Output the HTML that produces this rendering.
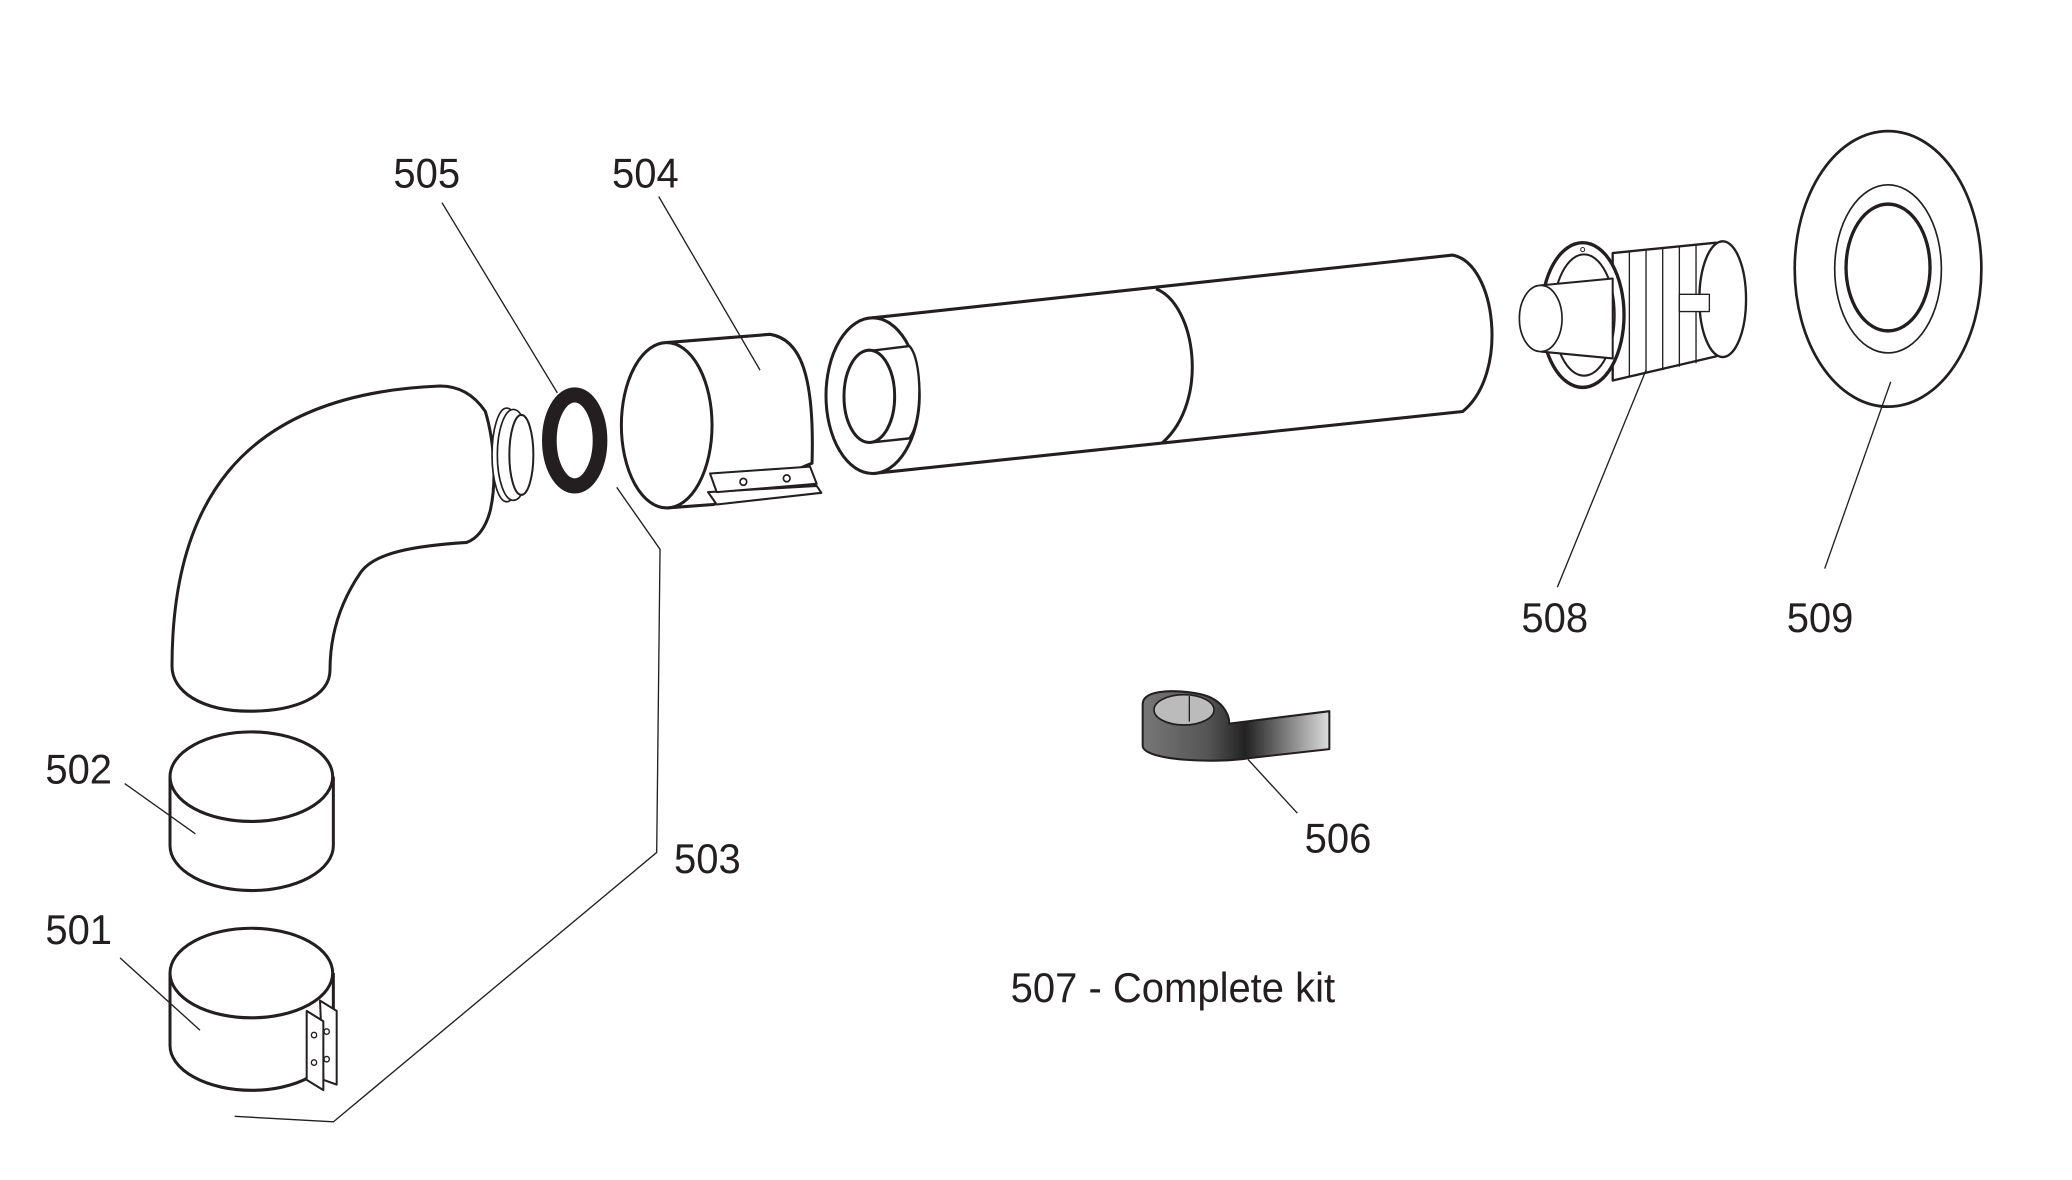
<!DOCTYPE html>
<html><head><meta charset="utf-8"><style>
html,body{margin:0;padding:0;background:#fff;}
svg{display:block;}
text{font-family:"Liberation Sans",Arial,sans-serif;fill:#231f20;font-size:60px;}
</style></head><body>
<svg width="2072" height="1180" viewBox="0 0 2072 1180" xmlns="http://www.w3.org/2000/svg">
<defs>
<linearGradient id="tg" x1="0" x2="1" y1="0" y2="0">
<stop offset="0" stop-color="#777"/><stop offset="0.35" stop-color="#555"/><stop offset="0.55" stop-color="#222"/><stop offset="1" stop-color="#ddd"/>
</linearGradient>
</defs>
<g transform="translate(0,98) scale(0.6667,0.689)" fill="#fff" stroke="#231f20" stroke-width="4.5" stroke-linejoin="round">
<path d="M258,825 C258,600 350,430 660,418 C690,418 712,432 728,455 C742,500 745,560 735,600 C728,625 715,640 700,645 C620,650 560,660 540,690 C505,740 495,790 495,830 C495,870 440,890 375,890 C300,890 258,860 258,825 Z"/>
<ellipse cx="760" cy="518" rx="22" ry="68" stroke-width="2.5"/>
<ellipse cx="770" cy="518" rx="24" ry="66" stroke-width="2.5"/>
<ellipse cx="782" cy="518" rx="18" ry="58" stroke-width="3"/>
<ellipse cx="862" cy="497" rx="38" ry="66" fill="none" stroke-width="22"/>
<path d="M1000,355 L1155,343 C1200,350 1222,400 1218,530 L1070,590 L1000,595" />
<ellipse cx="1000" cy="475" rx="68" ry="120"/>
<path d="M1062,572 L1225,563 L1232,573 L1075,590 Z" stroke-width="3"/>
<path d="M1065,545 L1215,535 L1225,560 L1075,572 Z" stroke-width="3"/>
<circle cx="1115" cy="557" r="5" stroke-width="2.5"/>
<circle cx="1180" cy="552" r="5" stroke-width="2.5"/>
<path d="M255,985 L255,1085 A122,65 0 0 0 500,1085 L500,985"/>
<ellipse cx="377" cy="985" rx="122" ry="65"/>
<path d="M255,1270 L255,1375 A122,65 0 0 0 500,1375 L500,1270"/>
<ellipse cx="377" cy="1270" rx="122" ry="65"/>
<path d="M480,1310 L505,1325 L505,1432 L485,1425 Z" stroke-width="3"/>
<path d="M460,1325 L485,1340 L485,1440 L460,1425 Z" stroke-width="3"/>
<circle cx="471" cy="1360" r="4" stroke-width="2"/><circle cx="471" cy="1400" r="4" stroke-width="2"/>
<circle cx="490" cy="1355" r="4" stroke-width="2"/><circle cx="490" cy="1395" r="4" stroke-width="2"/>
<g fill="none" stroke-width="2">
<path d="M663,152 L836,428"/>
<path d="M988,143 L1140,395"/>
<path d="M925,565 L990,655 L985,1095 L500,1486 L352,1478"/>
<path d="M187,995 L293,1068"/>
<path d="M180,1248 L300,1353"/>
</g>
<g stroke="none">
<text x="590" y="130">505</text>
<text x="918" y="130">504</text>
<text x="68" y="995">502</text>
<text x="1011" y="1125">503</text>
<text x="68" y="1228">501</text>
</g>
</g>
<g transform="translate(1036,98) scale(0.6667,0.689)" fill="#fff" stroke="#231f20" stroke-width="4.5" stroke-linejoin="round">
<path d="M-245,319 L625,228 C690,240 710,400 640,455 L-245,545 Z"/>
<path d="M180,277 C240,300 260,440 190,500" fill="none"/>
<ellipse cx="-245" cy="432" rx="70" ry="113"/>
<path d="M-248,367 L-190,360 C-170,380 -170,470 -190,494 L-248,500" stroke-width="3.5"/>
<ellipse cx="-250" cy="433" rx="38" ry="67"/>
<path d="M865,225 L1020,210 L1020,375 L865,410 Z" stroke-width="3.5"/>
<ellipse cx="1030" cy="292" rx="35" ry="84" stroke-width="3.5"/>
<g stroke-width="2" fill="none">
<path d="M890,222 L890,405"/><path d="M915,220 L915,400"/><path d="M940,218 L940,395"/><path d="M965,215 L965,390"/><path d="M990,213 L990,385"/>
</g>
<rect x="965" y="285" width="45" height="25" stroke-width="2"/>
<ellipse cx="820" cy="315" rx="62" ry="105" stroke-width="5"/>
<ellipse cx="822" cy="315" rx="46" ry="88" stroke-width="3"/>
<path d="M757,272 L865,262 L865,378 L757,368" stroke-width="3"/>
<ellipse cx="757" cy="320" rx="32" ry="48" stroke-width="2.5"/>
<circle cx="820" cy="220" r="3" stroke-width="1.5"/>
<ellipse cx="1278" cy="248" rx="140" ry="200" stroke-width="4"/>
<ellipse cx="1278" cy="248" rx="80" ry="122" stroke-width="2.5"/>
<ellipse cx="1278" cy="246" rx="63" ry="92" stroke-width="5"/>
<path d="M160,880 C160,860 200,858 240,864 C280,870 290,895 290,908 L440,890 L440,945 L320,958 C270,966 160,962 160,940 Z" fill="url(#tg)" stroke-width="3"/>
<ellipse cx="222" cy="888" rx="45" ry="22" fill="#bbb" stroke-width="2.5"/>
<path d="M230,868 L230,905" stroke-width="2"/>
<g fill="none" stroke-width="2">
<path d="M915,395 L782,710"/>
<path d="M1282,412 L1183,683"/>
<path d="M318,960 L392,1038"/>
</g>
<g stroke="none">
<text x="728" y="775">508</text>
<text x="1126" y="775">509</text>
<text x="403" y="1095">506</text>
<text x="-38" y="1312">507 - Complete kit</text>
</g>
</g>
</svg>
</body></html>
